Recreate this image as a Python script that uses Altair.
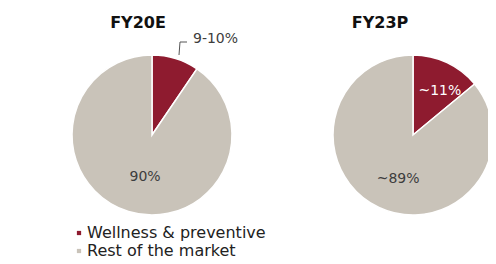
import altair as alt
import pandas as pd

years = ["FY20E", "FY20E", "FY23P", "FY23P"]
segments = ["Wellness & preventive", "Rest of the market", "Wellness & preventive", "Rest of the market"]
shares = [9.5, 90.5, 14.0, 86.0]
order_idx = [0, 1, 0, 1]
inner_labels = ["", "90%", "~11%", "~89%"]
outer_label = "9-10%"
titles = ["FY20E", "FY23P"]

RED = "#8E1B2F"
GREY = "#C9C3B9"
FONT = "DejaVu Sans"

df = pd.DataFrame({
    "year": years,
    "segment": segments,
    "share": shares,
    "idx": order_idx,
    "inner": inner_labels,
})

centers = {"FY20E": (144, 127), "FY23P": (405, 127)}
R = 80

color = alt.Color(
    "segment:N",
    scale=alt.Scale(domain=["Wellness & preventive", "Rest of the market"], range=[RED, GREY]),
    legend=alt.Legend(
        title=None, orient="none", legendX=63, legendY=217,
        symbolType="square", symbolSize=18, symbolStrokeWidth=0,
        labelFont=FONT, labelFontSize=16, labelColor="#222222", labelLimit=300,
        labelOffset=0, rowPadding=2, padding=0,
    ),
)

layers = []
for yr in titles:
    cx, cy = centers[yr]
    pie = alt.Chart(df).transform_filter(alt.datum.year == yr).mark_arc(
        radius=R, stroke="white", strokeWidth=1.5
    ).encode(
        theta=alt.Theta("share:Q", stack=True),
        color=color,
        order=alt.Order("idx:Q"),
        x=alt.value(cx),
        y=alt.value(cy),
    )
    txt = alt.Chart(df).transform_filter(alt.datum.year == yr).mark_text(
        radius=44 if yr == "FY20E" else 49, font=FONT, fontSize=14, dx=6
    ).encode(
        theta=alt.Theta("share:Q", stack=True),
        order=alt.Order("idx:Q"),
        text="inner:N",
        color=alt.condition(alt.datum.idx == 0, alt.value("white"), alt.value("#3d3d3d")),
        x=alt.value(cx),
        y=alt.value(cy),
    )
    title = alt.Chart(pd.DataFrame({"t": [yr]})).mark_text(
        font=FONT, fontSize=16, fontWeight="bold", color="#111111"
    ).encode(
        text="t:N",
        x=alt.value(cx - 14 if yr == "FY20E" else cx - 33),
        y=alt.value(15),
    )
    layers += [pie, txt, title]

outer = alt.Chart(pd.DataFrame({"t": [outer_label]})).mark_text(
    font=FONT, fontSize=14, align="left", baseline="middle", color="#3d3d3d"
).encode(text="t:N", x=alt.value(185), y=alt.value(31))

lead1 = alt.Chart(pd.DataFrame({"a": [0]})).mark_rule(color="#555555", strokeWidth=1).encode(
    x=alt.value(171), y=alt.value(47), x2=alt.value(172), y2=alt.value(34))
lead2 = alt.Chart(pd.DataFrame({"a": [0]})).mark_rule(color="#555555", strokeWidth=1).encode(
    x=alt.value(172), y=alt.value(34), x2=alt.value(179), y2=alt.value(34))

chart = alt.layer(*layers, outer, lead1, lead2).properties(
    width=480, height=256, padding=0, autosize="none"
).configure_view(stroke=None)

chart.save("out.html", embed_options={"renderer": "svg", "actions": False})
